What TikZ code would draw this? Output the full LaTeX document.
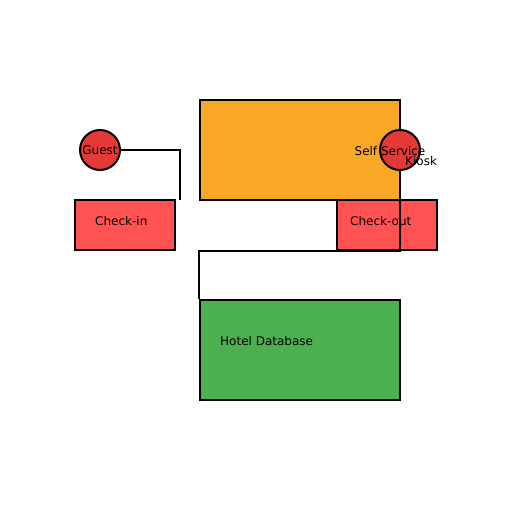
\documentclass[tikz,border=0pt]{standalone}
\usepackage{fontspec}
\setmainfont{DejaVu Sans}
\usepackage{tikz}
\usetikzlibrary{positioning, calc}

\definecolor{kioskorange}{HTML}{F9A825}
\definecolor{actorred}{HTML}{E53935}
\definecolor{steprred}{HTML}{FF5252}
\definecolor{dbgreen}{HTML}{4CAF50}

\tikzset{
    box/.style={draw=black, line width=2pt, inner sep=0pt, rectangle},
    actor/.style={draw=black, line width=2pt, inner sep=0pt, circle, minimum size=40pt, fill=actorred},
    lbl/.style={font=\fontsize{12}{14}\selectfont, inner sep=0pt},
    wire/.style={draw=black, line width=2pt}
}

\begin{document}
\begin{tikzpicture}[x=1pt, y=-1pt]
    \useasboundingbox (0,0) rectangle (512,512);

    % boxes
    \node[box, fill=kioskorange, minimum width=200pt, minimum height=100pt] (kioskbox) at (300,150) {};
    \node[box, fill=steprred, minimum width=100pt, minimum height=50pt] (checkin) at (125,225) {};
    \node[box, fill=steprred, minimum width=100pt, minimum height=50pt] (checkout) at (387,225) {};
    \node[box, fill=dbgreen, minimum width=200pt, minimum height=100pt] (db) at (300,350) {};

    % actors
    \node[actor] (guest) at (100,150) {};
    \node[actor] (kiosk) at (400,150) {};

    % connectors
    \coordinate (inEnd) at (180,200);
    \draw[wire] (guest.east) -| (inEnd);
    \draw[wire] (kiosk.south) -- (kiosk.south |- checkout.south) -| (db.north west);

    % labels
    \node[lbl, anchor=base] (guestLbl) at (100,154) {Guest};
    \node[lbl, anchor=base] (kioskLbl) at (390,155) {Self Service};
    \node[lbl, anchor=base west] (kioskLbl2) at (405,165) {Kiosk};
    \node[lbl, anchor=base west] (checkinLbl) at (95,225) {Check-in};
    \node[lbl, anchor=base west] (checkoutLbl) at (350,225) {Check-out};
    \node[lbl, anchor=base west] (dbLbl) at (220,345) {Hotel Database};
\end{tikzpicture}
\end{document}
